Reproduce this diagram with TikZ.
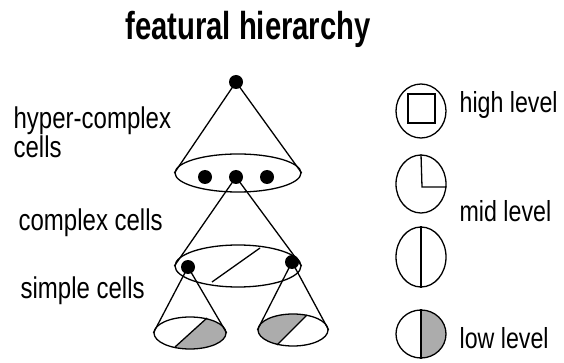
\documentclass[tikz,border=0pt]{standalone}
\usepackage{fontspec}
\setmainfont{Liberation Sans}
\newfontfamily\labfont[FakeStretch=0.8]{Liberation Sans}
\newfontfamily\titfont[FakeStretch=0.75]{Liberation Sans}
\usetikzlibrary{shapes.geometric}
\begin{document}
\begin{tikzpicture}[x=1pt,y=-1pt,
  line width=1.3pt,
  dot/.style={circle,fill=black,draw=none,minimum size=14pt,inner sep=0},
  ell/.style={ellipse,draw,inner sep=0},
  lab/.style={anchor=base west,inner sep=0,font=\labfont\fontsize{30}{34}\selectfont},
  rlab/.style={anchor=base west,inner sep=0,font=\labfont\fontsize{29}{34}\selectfont},
  shade/.style={fill=gray!65}
]
\useasboundingbox (0,0) rectangle (564,363);
% title
\node[anchor=base,inner sep=0,font=\titfont\bfseries\fontsize{39}{42}\selectfont] (title) at (248,40) {featural hierarchy};
% labels
\node[lab] (hc) at (13,129) {hyper-complex};
\node[lab] (hc2) at (13,158) {cells};
\node[lab] (cc) at (18,230) {complex cells};
\node[lab] (sc) at (20,298) {simple cells};
\node[rlab] (hl) at (459,113) {high level};
\node[rlab] (ml) at (459,222) {mid level};
\node[rlab] (ll) at (459,348) {low level};
% bottom ellipses with shading
\begin{scope}
  \clip (190,333) ellipse [x radius=36,y radius=16];
  \fill[shade] (175,347) -- (207,318) -- (240,310) -- (240,360) -- cycle;
\end{scope}
\begin{scope}
  \clip (293,330) ellipse [x radius=35,y radius=16];
  \fill[shade] (277,345) -- (307,315) -- (250,300) -- (250,360) -- cycle;
\end{scope}
\node[ell,minimum width=72pt,minimum height=32pt] (e3) at (190,333) {};
\node[ell,minimum width=70pt,minimum height=32pt] (e4) at (293,330) {};
\coordinate (s3a) at (175,347); \coordinate (s3b) at (207,318);
\coordinate (s4a) at (277,345); \coordinate (s4b) at (307,315);
\draw (s3a) -- (s3b);
\draw (s4a) -- (s4b);
% top
\node[dot] (top) at (236,82) {};
\node[ell,minimum width=126pt,minimum height=38pt] (e1) at (238,173) {};
\node[dot] (d1) at (205,177) {};
\node[dot] (d2) at (236,177) {};
\node[dot] (d3) at (267,177) {};
\draw (top.center) -- (e1.west);
\draw (top.center) -- (e1.east);
% middle
\node[ell,minimum width=126pt,minimum height=42pt] (e2) at (238,266) {};
\draw (d2.center) -- (e2.west);
\draw (d2.center) -- (e2.east);
\coordinate (m1) at (212,282); \coordinate (m2) at (260,248);
\draw (m1) -- (m2);
\node[dot] (dl) at (188,267) {};
\node[dot] (dr) at (292,262) {};
\draw (dl.center) -- (e3.west);
\draw (dl.center) -- (e3.east);
\draw (dr.center) -- (e4.west);
\draw (dr.center) -- (e4.east);
% legend
\node[ell,minimum width=50pt,minimum height=54pt] (L1) at (421,111) {};
\node[draw,minimum width=27pt,minimum height=29pt,inner sep=0] (sq) at (421.5,108.5) {};
\node[ell,minimum width=50pt,minimum height=58pt] (L2) at (421,184) {};
\coordinate (q) at (422,187);
\draw (L2.north) -- (q) -- (L2.east |- q);
\node[ell,minimum width=50pt,minimum height=60pt] (L3) at (421,257) {};
\draw (L3.north) -- (L3.south);
\begin{scope}
  \clip (421,334) ellipse [x radius=25,y radius=24];
  \fill[shade] (421,300) rectangle (450,360);
\end{scope}
\node[ell,minimum width=50pt,minimum height=48pt] (L4) at (421,334) {};
\draw (L4.north) -- (L4.south);
\end{tikzpicture}
\end{document}
